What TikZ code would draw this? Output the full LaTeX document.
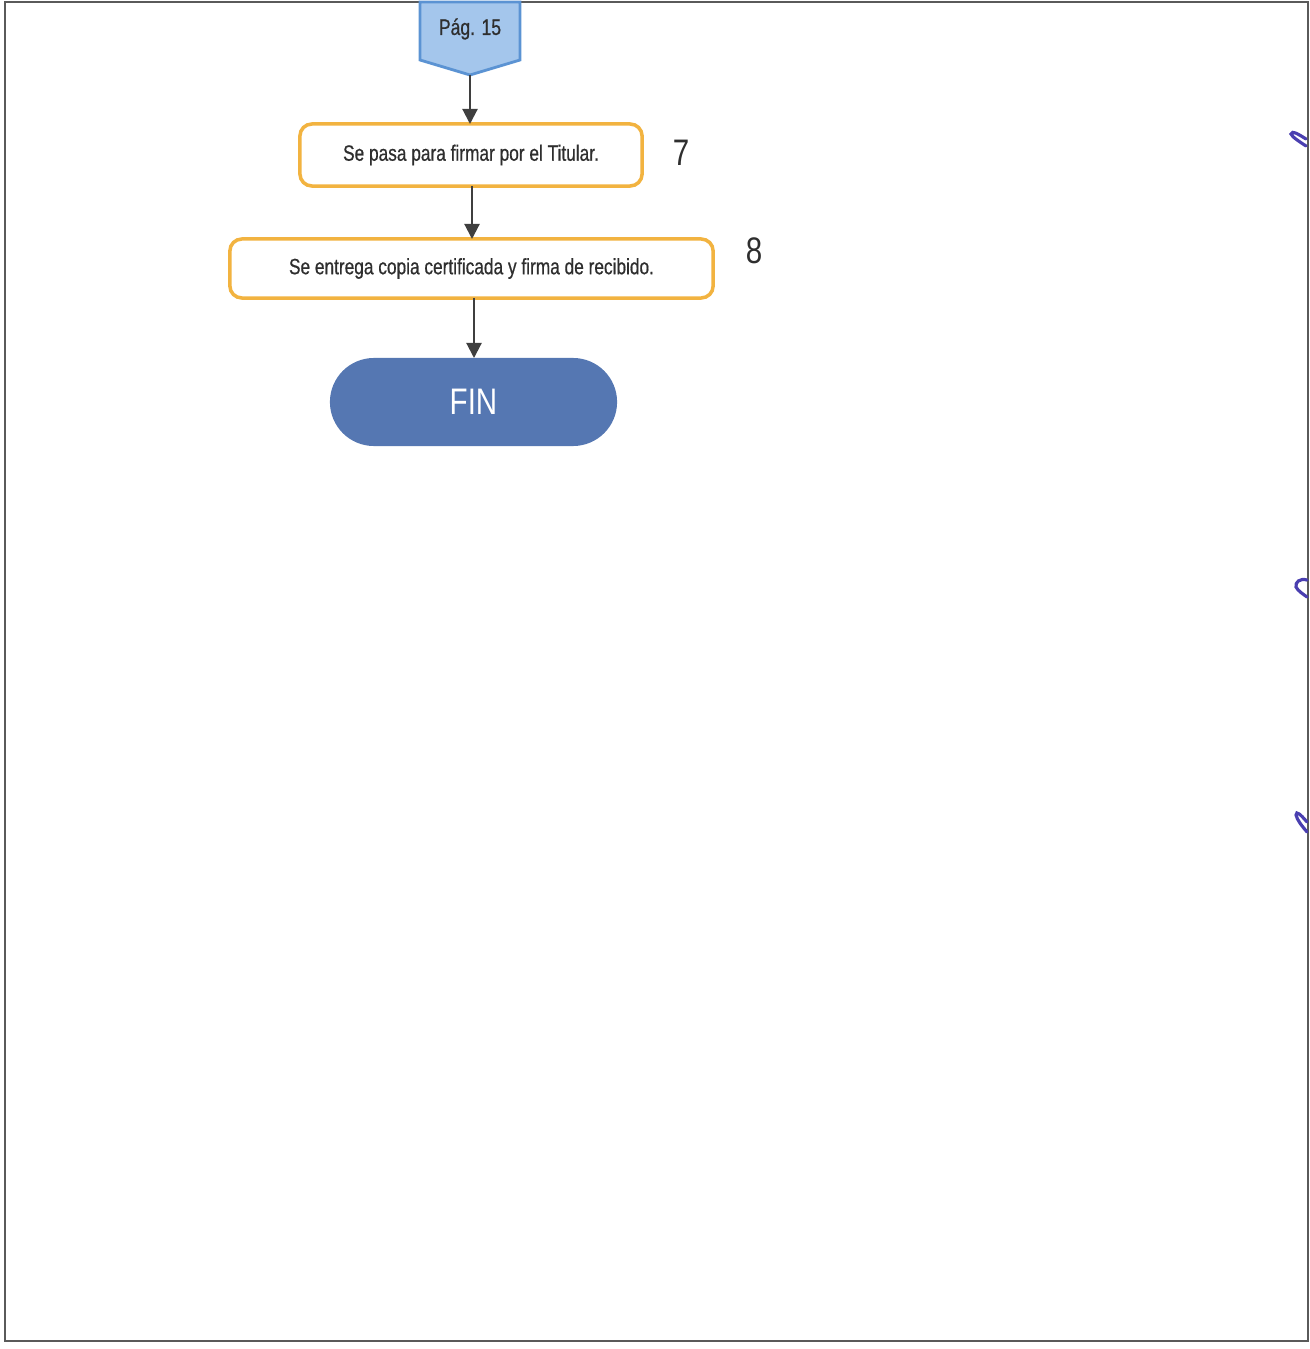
\documentclass[tikz,border=0pt]{standalone}
\usepackage{fontspec}
\setmainfont{Liberation Sans}
\newfontfamily\narrowfont[FakeStretch=0.78,FakeBold=0.6]{Liberation Sans}
\newfontfamily\finfont[FakeStretch=0.8]{Liberation Sans}
\usetikzlibrary{arrows.meta,shapes.misc}
\definecolor{boxorange}{HTML}{F2B340}
\definecolor{linegray}{HTML}{3F3F3F}
\definecolor{txtgray}{HTML}{2E2E2E}
\definecolor{pagefill}{HTML}{A4C6EC}
\definecolor{pageedge}{HTML}{5B93D3}
\definecolor{finblue}{HTML}{5577B2}
\definecolor{penblue}{HTML}{4A3FB0}
\definecolor{framegray}{HTML}{5A5A5A}
\tikzset{
  stepbox/.style={draw=boxorange, line width=1pt, rounded corners=0.12cm, fill=white,
    text=txtgray, font=\narrowfont\fontsize{6.3}{7}\selectfont, inner sep=0pt},
  flowarrow/.style={draw=linegray, line width=0.6pt,
    -{Triangle[width=0.15cm,length=0.15cm]}},
  stepnum/.style={text=txtgray, font=\finfont\fontsize{10.5}{12}\selectfont, inner sep=0pt},
  terminal/.style={rounded rectangle, fill=finblue, text=white, inner sep=0pt,
    font=\finfont\fontsize{10.5}{12}\selectfont},
  penmark/.style={draw=penblue, line width=0.9pt, line cap=round}
}
\begin{document}
\begin{tikzpicture}[x=0.01cm, y=-0.01cm]
\useasboundingbox (0,0) rectangle (1310,1349);
% page frame
\draw[framegray, line width=0.6pt] (5,2) -- (1308,2) -- (1308,1341) -- (5,1341) -- cycle;

% off-page connector from page 15
\draw[pageedge, fill=pagefill, line width=0.8pt]
  (420,2) -- (520,2) -- (520,60) -- (470,75) -- (420,60) -- cycle;
\node[text=txtgray, font=\narrowfont\fontsize{6.4}{7}\selectfont] (pg) at (470,29) {Pág. 15};
\coordinate (pgtip) at (470,75);

% process steps
\node[stepbox, minimum width=3.42cm, minimum height=0.62cm] (s7) at (471,155) {Se pasa para firmar por el Titular.};
\node[stepnum] (n7) at (681,153) {7};
\node[stepbox, minimum width=4.83cm, minimum height=0.59cm] (s8) at (471.5,268.5) {Se entrega copia certificada y firma de recibido.};
\node[stepnum] (n8) at (754,251) {8};

% end terminal
\node[terminal, minimum width=2.87cm, minimum height=0.88cm] (fin) at (473.5,402) {FIN};

% connectors
\draw[flowarrow] (pgtip) -- (470,124);
\draw[flowarrow] (472,186) -- (472,239);
\draw[flowarrow] (474,298) -- (474,358);

% pen marks on the right edge
\draw[penmark] (1306,139) .. controls (1298,134) and (1292,130) .. (1291,134) .. controls (1292,137) and (1300,142) .. (1306,146);
\draw[penmark] (1307,580) .. controls (1300,578) and (1295,582) .. (1296,587) .. controls (1298,591) and (1303,594) .. (1307,597);
\draw[penmark] (1307,822) .. controls (1301,815) and (1296,810) .. (1296,815) .. controls (1297,820) and (1302,826) .. (1307,832);
\end{tikzpicture}
\end{document}
